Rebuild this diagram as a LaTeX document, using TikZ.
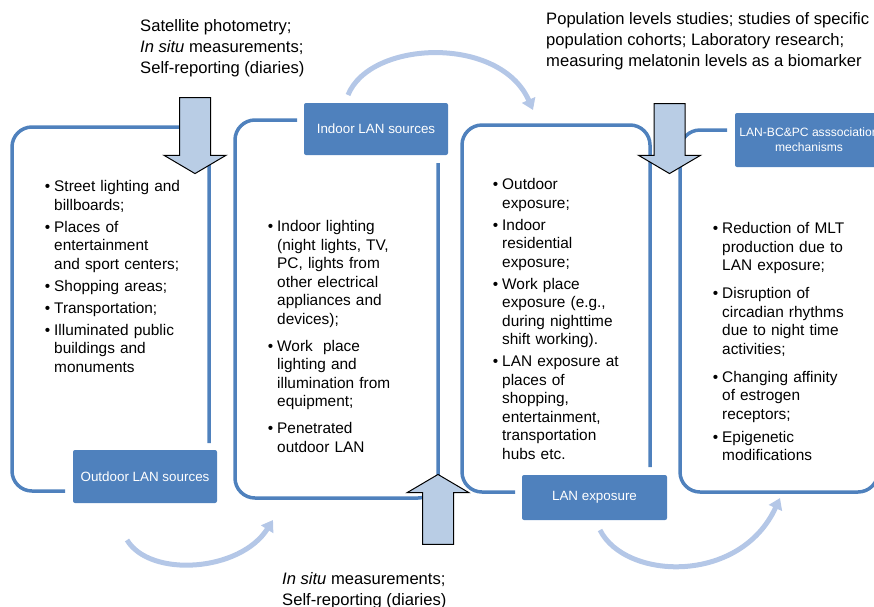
\documentclass[tikz,border=0pt]{standalone}
\usepackage{fontspec}
\setmainfont{Liberation Sans}
\usepackage{enumitem}
\usetikzlibrary{positioning,shapes.arrows,arrows.meta}

\definecolor{lanblue}{RGB}{79,129,189}
\definecolor{lanpale}{RGB}{185,205,229}
\definecolor{lanflow}{RGB}{180,199,231}

\newcommand{\bodyfont}{\fontsize{15.4}{18.5}\selectfont}
\newcommand{\notefont}{\fontsize{16.6}{21}\selectfont}
\setlist[itemize]{label=\textbullet, leftmargin=9pt, labelsep=4pt, topsep=0pt, partopsep=0pt, parsep=0pt, itemsep=3.5pt}

\begin{document}
\begin{tikzpicture}[x=1pt,y=-1pt,
  frame/.style={draw=lanblue, line width=3.5pt, rounded corners=20pt},
  tagbox/.style={fill=lanblue, text=white, rounded corners=2pt, inner sep=0pt,
    align=center, font=\fontsize{13.4}{16}\selectfont},
  bullets/.style={anchor=north west, inner sep=0pt, text width=175pt, align=left, font=\bodyfont},
  notes/.style={anchor=north west, inner sep=0pt, align=left, font=\notefont},
  blockarrow/.style={single arrow, draw=black, fill=lanpale, line width=1pt, inner sep=15pt,
    single arrow head extend=15.5pt, single arrow tip angle=119},
  flow/.style={draw=lanflow, line width=5pt, -{Triangle[width=14pt,length=11pt]}}]

  \useasboundingbox (0,0) rectangle (874,606);

% Frames
  \draw[frame] (65,491)  -| (12,127)  -| (209,443);
  \draw[frame] (297,120) -| (235,498) -| (438,163);
  \draw[frame] (515,492) -| (462,125) -| (650,467);
  \draw[frame] (727,130) -| (680,492) -| (878,420);

% Nodes
  \node[tagbox, minimum width=144, minimum height=53] (outdoortag)  at (145,476.5) {Outdoor LAN sources};
  \node[tagbox, minimum width=144, minimum height=52] (indoortag)   at (376,129)   {Indoor LAN sources};
  \node[tagbox, minimum width=145, minimum height=45] (exposuretag) at (594.5,497.5) {LAN exposure};
  \node[tagbox, minimum width=148, minimum height=54,
        font=\fontsize{12.1}{15}\selectfont]            (mechtag)     at (809,140)   {LAN-BC\&PC asssociation\\mechanisms};

  \node[bullets] (outdoorlist) at (45,173) {%
    \begin{itemize}
      \item Street lighting and\\billboards;
      \item Places of\\entertainment\\and sport centers;
      \item Shopping areas;
      \item Transportation;
      \item Illuminated public\\buildings and\\monuments
    \end{itemize}};
  \node[bullets] (indoorlist) at (268,213) {%
    \begin{itemize}[itemsep=8.5pt]
      \item Indoor lighting\\(night lights, TV,\\PC, lights from\\other electrical\\appliances and\\devices);
      \item Work\ \ place\\lighting and\\illumination from\\equipment;
      \item Penetrated\\outdoor LAN
    \end{itemize}};
  \node[bullets] (exposurelist) at (493,171) {%
    \begin{itemize}
      \item Outdoor\\exposure;
      \item Indoor\\residential\\exposure;
      \item Work place\\exposure (e.g.,\\during nighttime\\shift working).
      \item LAN exposure at\\places of\\shopping,\\entertainment,\\transportation\\hubs etc.
    \end{itemize}};
  \node[bullets] (mechlist) at (713,215) {%
    \begin{itemize}[itemsep=9.5pt]
      \item Reduction of MLT\\production due to\\LAN exposure;
      \item Disruption of\\circadian rhythms\\due to night time\\activities;
      \item Changing affinity\\of estrogen\\receptors;
      \item[\textbullet]\vspace{-5pt}Epigenetic\\modifications
    \end{itemize}};

  \node[notes] (satnotes)    at (140,19)  {Satellite photometry;\\\textit{In situ} measurements;\\Self-reporting (diaries)};
  \node[notes] (studynotes)  at (546,12)  {Population levels studies; studies of specific\\population cohorts; Laboratory research;\\measuring melatonin levels as a biomarker};
  \node[notes] (insitunotes) at (282,572) {\textit{In situ} measurements;\\Self-reporting (diaries)};

% Block arrows
  \node[blockarrow, shape border rotate=270, minimum height=76] (satarrow)    at (195,131)   {};
  \node[blockarrow, shape border rotate=270, minimum height=70] (studyarrow)  at (669.5,134) {};
  \node[blockarrow, shape border rotate=90,  minimum height=70] (insituarrow) at (438,514)   {};

% Edges
  \coordinate (outflow)  at (127,540);
  \coordinate (inflow)   at (273,520);
  \coordinate (indflow)  at (348,95);
  \coordinate (expflow)  at (533,110);
  \coordinate (lanflow)  at (600,530);
  \coordinate (mechflow) at (780,498);
  \draw[flow] (outflow) .. controls (150,578) and (240,572) .. (inflow);
  \draw[flow] (indflow) .. controls (370,40)  and (500,35)  .. (expflow);
  \draw[flow] (lanflow) .. controls (625,580) and (740,585) .. (mechflow);

\end{tikzpicture}
\end{document}
